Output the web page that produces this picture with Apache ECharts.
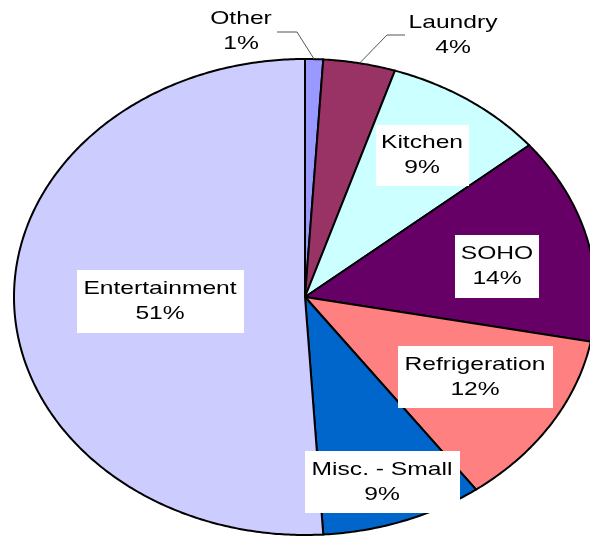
<!DOCTYPE html>
<html>
<head>
<meta charset="utf-8">
<script src="https://cdn.jsdelivr.net/npm/echarts@6/dist/echarts.min.js"></script>
<style>
  html, body { margin: 0; padding: 0; background: #fff; }
  #chart { width: 590px; height: 536px; }
</style>
</head>
<body>
<div id="chart"></div>
<script>
// slices, clockwise from 12 o'clock
var categories = ['Other', 'Laundry', 'Kitchen', 'SOHO', 'Refrigeration', 'Misc. - Small', 'Entertainment'];
var shares = [1, 4, 9, 14, 12, 9, 51];

var colors = ['#9999FF', '#993366', '#CCFFFF', '#660066', '#FF8080', '#0066CC', '#CCCCFF'];

// the pie is an ellipse (stretched), so it is drawn with a custom series
var cx = 305, cy = 297, rx = 291, ry = 238;
var textStretch = 1.33;

// label placement (text centre, white box or leader line)
var labelPlace = [
  { x: 241, y: 31, leader: [[277, 32], [297, 32]] },
  { x: 453, y: 35.5, leader: [[405, 35], [387, 35]] },
  { x: 422, y: 155, box: [376, 125, 93, 61] },
  { x: 497, y: 266, box: [455, 235, 84, 63] },
  { x: 475, y: 377, box: [398, 346, 155, 62] },
  { x: 382, y: 482, box: [305, 451, 155, 62] },
  { x: 160, y: 301, box: [77, 270, 167, 63] }
];

var total = shares.reduce(function (a, b) { return a + b; }, 0);

function ellipsePoint(a) {
  return [cx + rx * Math.sin(a), cy - ry * Math.cos(a)];
}

function renderSlice(params, api) {
  var i = params.dataIndex;
  var before = 0;
  for (var k = 0; k < i; k++) before += shares[k];
  var v = api.value(1);
  var a0 = before / total * Math.PI * 2;
  var a1 = (before + v) / total * Math.PI * 2;
  var n = Math.max(2, Math.ceil((a1 - a0) / 0.01));
  var pts = [[cx, cy]];
  for (var s = 0; s <= n; s++) {
    pts.push(ellipsePoint(a0 + (a1 - a0) * s / n));
  }
  var children = [{
    type: 'polygon',
    z2: 1,
    shape: { points: pts },
    style: { fill: colors[i], stroke: '#000', lineWidth: 2 }
  }];

  var lp = labelPlace[i];
  if (lp.box) {
    children.push({
      type: 'rect',
      z2: 20,
      shape: { x: lp.box[0], y: lp.box[1], width: lp.box[2], height: lp.box[3] },
      style: { fill: '#fff' }
    });
  }
  if (lp.leader) {
    var mid = ellipsePoint((a0 + a1) / 2);
    children.push({
      type: 'polyline',
      z2: 20,
      shape: { points: lp.leader.concat([mid]) },
      style: { stroke: '#555', lineWidth: 1, fill: null }
    });
  }
  children.push({
    type: 'text',
    z2: 30,
    x: lp.x,
    y: lp.y,
    scaleX: textStretch,
    style: {
      text: categories[i] + '\n' + v + '%',
      fill: '#000',
      font: '18.5px "Liberation Sans", Arial, sans-serif',
      lineHeight: 25,
      align: 'center',
      verticalAlign: 'middle'
    }
  });
  return { type: 'group', children: children };
}

var chart = echarts.init(document.getElementById('chart'), null, { renderer: 'canvas' });
chart.setOption({
  backgroundColor: '#fff',
  animation: false,
  series: [{
    type: 'custom',
    coordinateSystem: 'none',
    renderItem: renderSlice,
    data: categories.map(function (c, i) { return [i, shares[i]]; })
  }]
});
</script>
</body>
</html>
